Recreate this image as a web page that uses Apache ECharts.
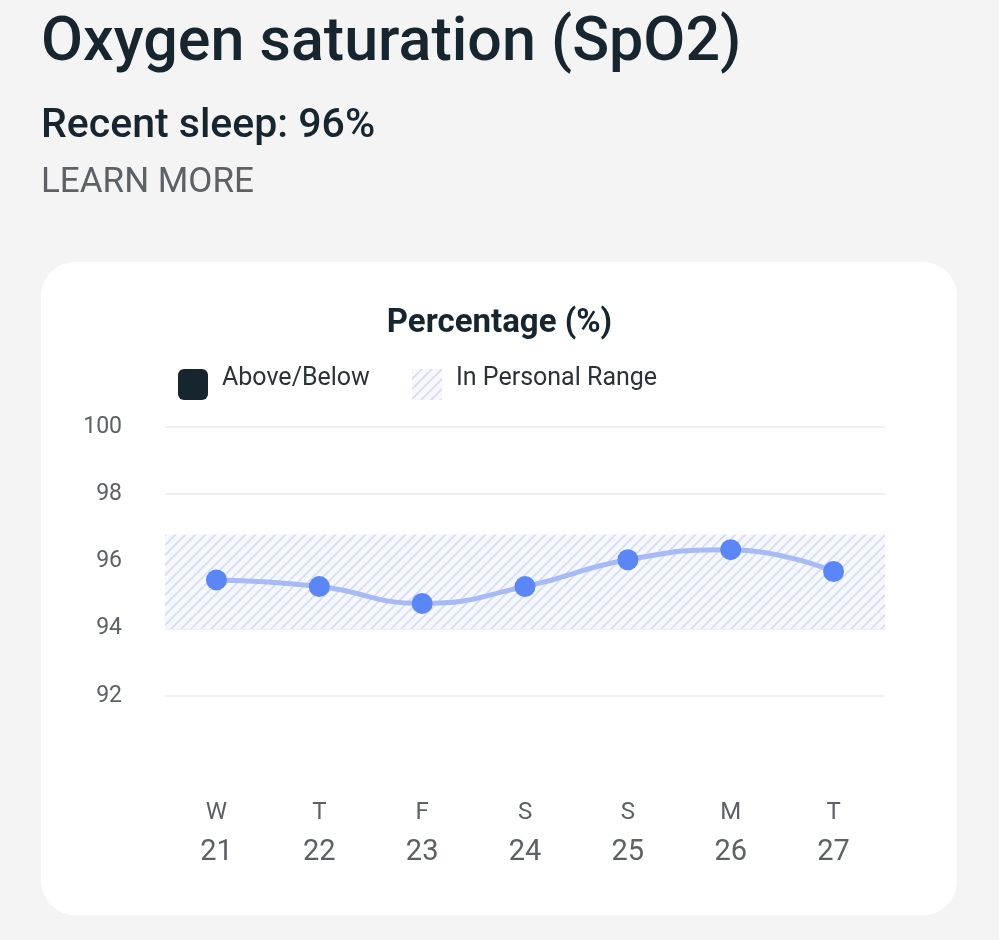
<!DOCTYPE html>
<html><head><meta charset="utf-8">
<script src="https://cdn.jsdelivr.net/npm/echarts@6/dist/echarts.min.js"></script>
<style>html,body{margin:0;padding:0;background:#f4f4f4}#c{width:999px;height:940px}</style>
</head><body><div id="c"></div>
<script>
const days = ['W','T','F','S','S','M','T'];
const dates = ['21','22','23','24','25','26','27'];
const spo2 = [95.45, 95.25, 94.75, 95.25, 96.05, 96.35, 95.7];
const rangeLow = 94, rangeHigh = 96.8;
const yTicks = [92, 94, 96, 98, 100];

function stripes(){
  const c = document.createElement('canvas'); c.width = 10; c.height = 10;
  const g = c.getContext('2d');
  g.fillStyle = '#f7f8fe'; g.fillRect(0,0,10,10);
  g.strokeStyle = '#d3dcf7'; g.lineWidth = 1.6;
  g.beginPath();
  g.moveTo(-2,12); g.lineTo(12,-2);
  g.moveTo(-7,7); g.lineTo(7,-7);
  g.moveTo(3,17); g.lineTo(17,3);
  g.stroke();
  return c;
}
const pat = {image: stripes(), repeat: 'repeat'};
const ch = echarts.init(document.getElementById('c'));
ch.setOption({
  backgroundColor: '#f4f4f4',
  animation: false,
  graphic: [
    {type:'rect', left:41, top:262, shape:{width:916, height:653, r:34}, style:{fill:'#ffffff'}, z:-10},
    {type:'text', left:41, top:14, style:{text:'Oxygen saturation (SpO2)', font:'500 61px Roboto', fill:'#17252f'}},
    {type:'text', left:41, top:106, style:{text:'Recent sleep: 96%', font:'500 41px Roboto', fill:'#17252f'}},
    {type:'text', left:41, top:166, style:{text:'LEARN MORE', font:'400 35px Roboto', fill:'#5c6166'}},
    {type:'text', left:'center', top:307, style:{text:'Percentage (%)', font:'bold 33px Roboto', fill:'#17252f'}},
    {type:'rect', left:178, top:369, shape:{width:30, height:31, r:6}, style:{fill:'#17252f'}},
    {type:'text', left:222, top:366, style:{text:'Above/Below', font:'400 25px Roboto', fill:'#2c3338'}},
    {type:'rect', left:412, top:369, shape:{width:30, height:31}, style:{fill:pat}},
    {type:'text', left:456, top:366, style:{text:'In Personal Range', font:'400 25px Roboto', fill:'#2c3338'}}
  ],
  grid: {left:165, right:114, top:427, bottom:177},
  xAxis: {
    type:'category', data: days.map((d,i)=>d+'\n'+dates[i]),
    axisLine:{show:false}, axisTick:{show:false},
    axisLabel:{margin:30, lineHeight:40, color:'#5c6166', fontFamily:'Roboto',
      formatter: v => { const p=v.split('\n'); return '{a|'+p[0]+'}\n{b|'+p[1]+'}'; },
      rich:{a:{fontSize:24, color:'#5c6166', fontFamily:'Roboto', lineHeight:40}, b:{fontSize:29, color:'#5c6166', fontFamily:'Roboto', lineHeight:40}}}
  },
  yAxis: {
    type:'value', min:90, max:100, interval:2,
    axisLabel:{color:'#5c6166', fontSize:23, fontFamily:'Roboto', margin:43,
      formatter: v => yTicks.includes(v) ? String(v) : ''},
    splitLine:{lineStyle:{color:'#f0f0f0', width:2}, showMinLine:false},
    axisLine:{show:false}, axisTick:{show:false}
  },
  series: [{
    type:'line', data: spo2, smooth:0.5,
    lineStyle:{color:'#a8baf6', width:5},
    symbol:'circle', symbolSize:21,
    itemStyle:{color:'#5b86f6'},
    markArea:{silent:true, itemStyle:{color:pat}, data:[[{yAxis:rangeLow},{yAxis:rangeHigh}]]},
    z:5
  }]
});
</script></body></html>
